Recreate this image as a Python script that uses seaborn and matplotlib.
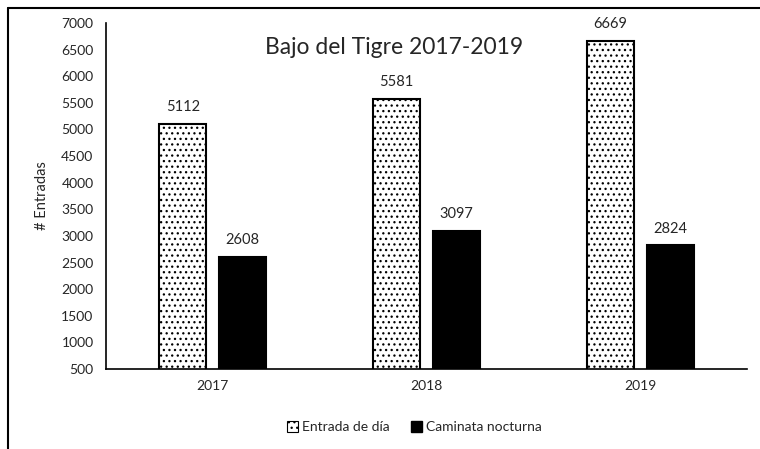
import matplotlib
matplotlib.use("Agg")
import matplotlib.pyplot as plt
from matplotlib.lines import Line2D
from matplotlib.patches import Patch
import seaborn as sns
import pandas as pd

years = ["2017", "2018", "2019"]
series = ["Entrada de día", "Caminata nocturna"]
entrada_dia = [5112, 5581, 6669]
caminata_nocturna = [2608, 3097, 2824]
yticks = list(range(500, 7001, 500))

df = pd.DataFrame({
    "Año": years * 2,
    "Serie": [series[0]] * 3 + [series[1]] * 3,
    "Entradas": entrada_dia + caminata_nocturna,
})

sns.set_style("white")
plt.rcParams["font.family"] = ["Lato", "DejaVu Sans"]
plt.rcParams["hatch.linewidth"] = 0.9

fig = plt.figure(figsize=(7.6, 4.49), dpi=100)
ax = fig.add_axes([0.1395, 0.178, 0.8435, 0.7708])

sns.barplot(data=df, x="Año", y="Entradas", hue="Serie", hue_order=series,
            palette=["white", "black"], width=0.56, gap=0.214,
            edgecolor="black", linewidth=1.5, legend=False, ax=ax)

for i, cont in enumerate(ax.containers):
    for bar in cont:
        if i == 0:
            bar.set_hatch("...")
    ax.bar_label(cont, fmt="%d", padding=7, fontsize=10.5)

ax.set_ylim(500, 7000)
ax.set_yticks(yticks)
ax.set_yticklabels([str(v) for v in yticks], fontsize=10)
ax.tick_params(axis="y", length=0, pad=9)
ax.tick_params(axis="x", length=0, pad=8, labelsize=10)
ax.set_xlabel("")
ax.set_ylabel("# Entradas", fontsize=10.5, labelpad=9)

for s in ["top", "right"]:
    ax.spines[s].set_visible(False)
ax.spines["left"].set_color("black")
ax.spines["bottom"].set_color("black")
ax.spines["left"].set_linewidth(1.2)
ax.spines["bottom"].set_linewidth(1.2)

ax.text(0.45, 0.93, "Bajo del Tigre 2017-2019", transform=ax.transAxes,
        ha="center", va="center", fontsize=16.5)

handles = [Patch(facecolor="white", edgecolor="black", hatch="...", linewidth=0.8),
           Patch(facecolor="black", edgecolor="black")]
fig.legend(handles, series, loc="center", bbox_to_anchor=(0.545, 0.049),
           ncol=2, frameon=False, fontsize=10, handlelength=0.8,
           handleheight=0.8, handletextpad=0.3, columnspacing=1.5)

# outer chart frame (partially cropped in the reference)
fig.add_artist(Line2D([8/760, 1.0], [1 - 8/449, 1 - 8/449], color="black",
                      linewidth=1.5, transform=fig.transFigure))
fig.add_artist(Line2D([8/760, 8/760], [0.0, 1 - 8/449], color="black",
                      linewidth=1.5, transform=fig.transFigure))

fig.savefig("out.png", dpi=100, facecolor="white")
